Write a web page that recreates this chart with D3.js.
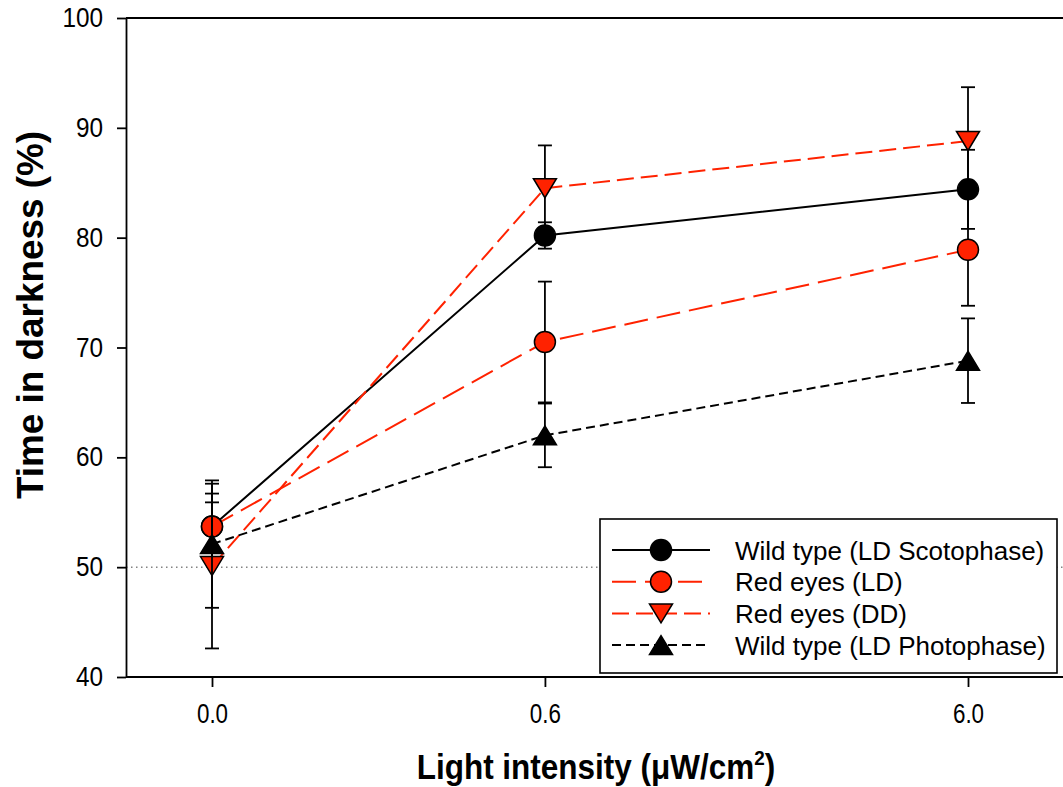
<!DOCTYPE html>
<html>
<head>
<meta charset="utf-8">
<script src="https://cdn.jsdelivr.net/npm/d3@7"></script>
<style>
  html, body { margin: 0; padding: 0; background: #fff; }
  svg { display: block; font-family: "Liberation Sans", Arial, sans-serif; }
</style>
</head>
<body>
<svg id="chart" width="1063" height="787"></svg>
<script>
// ---- data ----
const intensities = [0, 0.6, 6.0];
const tickLabels = ["0.0", "0.6", "6.0"];
const yTicks = [40, 50, 60, 70, 80, 90, 100];

const wtScoto = [53.7, 80.2, 84.4];
const wtScotoErr = [3.0, 1.2, 3.6];
const redLD = [53.7, 70.5, 78.9];
const redLDErr = [2.2, 5.5, 5.1];
const redDD = [50.1, 84.5, 88.8];
const redDDErr = [7.5, 3.9, 4.9];
const wtPhoto = [52.1, 62.0, 68.8];
const wtPhotoErr = [5.8, 2.9, 3.85];

const seriesNames = ["Wild type (LD Scotophase)", "Red eyes (LD)", "Red eyes (DD)", "Wild type (LD Photophase)"];

// ---- styles ----
const RED = "#ff2200";
const series = [
  { name: seriesNames[0], values: wtScoto, err: wtScotoErr, line: "#000", dash: null, fill: "#000", sym: "circle" },
  { name: seriesNames[1], values: redLD, err: redLDErr, line: RED, dash: "24,9", fill: RED, sym: "circle" },
  { name: seriesNames[2], values: redDD, err: redDDErr, line: RED, dash: "17,7", fill: RED, sym: "down" },
  { name: seriesNames[3], values: wtPhoto, err: wtPhotoErr, line: "#000", dash: "9,5", fill: "#000", sym: "up" }
];

const svg = d3.select("#chart");
const pL = 126, pR = 1063, pT = 18, pB = 677;

const x = d3.scaleSymlog().constant(0.14).domain([0, 6]).range([212, 968]);
const y = d3.scaleLinear().domain([40, 100]).range([pB, pT]);

function condense(sel, f) {
  sel.each(function () {
    const len = this.getComputedTextLength();
    d3.select(this).attr("textLength", len * f).attr("lengthAdjust", "spacingAndGlyphs");
  });
}

// dotted reference line at 50
svg.append("line")
  .attr("x1", pL).attr("x2", pR)
  .attr("y1", y(50)).attr("y2", y(50))
  .attr("stroke", "#444").attr("stroke-width", 1)
  .attr("stroke-dasharray", "1.5,3.5");

// frame lines
svg.append("line").attr("x1", pL).attr("x2", pR).attr("y1", pT).attr("y2", pT)
  .attr("stroke", "#000").attr("stroke-width", 1.8);
svg.append("line").attr("x1", pL).attr("x2", pR).attr("y1", pB).attr("y2", pB)
  .attr("stroke", "#000").attr("stroke-width", 1.8);

// y axis
const yAxis = svg.append("g").attr("transform", `translate(${pL},0)`)
  .call(d3.axisLeft(y).tickValues(yTicks).tickSize(9).tickPadding(14).tickSizeOuter(0));
yAxis.select(".domain").attr("stroke-width", 1.8);
yAxis.selectAll(".tick line").attr("stroke-width", 1.8);
yAxis.selectAll("text").attr("font-size", 27).attr("fill", "#000")
  .attr("font-family", "Liberation Sans, Arial, sans-serif");
condense(yAxis.selectAll("text"), 0.9);

// x axis
const xAxis = svg.append("g").attr("transform", `translate(0,${pB})`)
  .call(d3.axisBottom(x).tickValues(intensities).tickFormat((d, i) => tickLabels[i])
        .tickSize(10).tickPadding(16).tickSizeOuter(0));
xAxis.select(".domain").remove();
xAxis.selectAll(".tick line").attr("stroke-width", 1.8);
xAxis.selectAll("text").attr("font-size", 28).attr("fill", "#000")
  .attr("font-family", "Liberation Sans, Arial, sans-serif");
condense(xAxis.selectAll("text"), 0.8);

// axis titles
svg.append("text")
  .attr("transform", `translate(43,315) rotate(-90)`)
  .attr("text-anchor", "middle")
  .attr("font-size", 36).attr("font-weight", "bold")
  .attr("textLength", 368).attr("lengthAdjust", "spacingAndGlyphs")
  .text("Time in darkness (%)");

const xt = svg.append("text")
  .attr("transform", "translate(596,779) scale(0.9,1)")
  .attr("x", 0).attr("y", 0)
  .attr("text-anchor", "middle")
  .attr("font-size", 35).attr("font-weight", "bold");
xt.append("tspan").text("Light intensity (\u03bcW/cm");
xt.append("tspan").attr("font-size", 21).attr("dy", -14).text("2");
xt.append("tspan").attr("dy", 14).text(")");

// symbol drawing
function drawSymbol(g, sym, cx, cy, fill) {
  if (sym === "circle") {
    g.append("circle").attr("cx", cx).attr("cy", cy).attr("r", 10.5)
      .attr("fill", fill).attr("stroke", "#000").attr("stroke-width", 1.5);
  } else {
    const w = 11.5, h = 19;
    let pts;
    if (sym === "up") pts = [[cx, cy - h / 2], [cx + w, cy + h / 2], [cx - w, cy + h / 2]];
    else pts = [[cx - w, cy - h / 2], [cx + w, cy - h / 2], [cx, cy + h / 2]];
    g.append("path").attr("d", "M" + pts.map(p => p.join(",")).join("L") + "Z")
      .attr("fill", fill).attr("stroke", "#000").attr("stroke-width", 1.5);
  }
}

const lineGen = d3.line().x(d => x(d[0])).y(d => y(d[1]));
const capW = 7;

series.forEach(s => {
  const g = svg.append("g");
  // error bars
  s.values.forEach((v, i) => {
    const cx = x(intensities[i]);
    const y1 = y(v + s.err[i]), y2 = y(v - s.err[i]);
    g.append("line").attr("x1", cx).attr("x2", cx).attr("y1", y1).attr("y2", y2)
      .attr("stroke", "#000").attr("stroke-width", 1.8);
    [y1, y2].forEach(yy => g.append("line").attr("x1", cx - capW).attr("x2", cx + capW)
      .attr("y1", yy).attr("y2", yy).attr("stroke", "#000").attr("stroke-width", 1.8));
  });
  // line
  g.append("path").datum(s.values.map((v, i) => [intensities[i], v]))
    .attr("d", lineGen).attr("fill", "none")
    .attr("stroke", s.line).attr("stroke-width", 2)
    .attr("stroke-dasharray", s.dash);
  // symbols
  s.values.forEach((v, i) => drawSymbol(g, s.sym, x(intensities[i]), y(v), s.fill));
});

// legend
const lg = svg.append("g");
lg.append("rect").attr("x", 600).attr("y", 519).attr("width", 457).attr("height", 154)
  .attr("fill", "#fff").attr("stroke", "#000").attr("stroke-width", 1.6);
series.forEach((s, i) => {
  const ly = 550 + i * 31.7;
  lg.append("line").attr("x1", 612).attr("x2", 710).attr("y1", ly).attr("y2", ly)
    .attr("stroke", s.line).attr("stroke-width", 2).attr("stroke-dasharray", s.dash);
  drawSymbol(lg, s.sym, 661, ly, s.fill);
  lg.append("text").attr("x", 735).attr("y", ly + 9.5)
    .attr("font-size", 26).attr("fill", "#000")
    .text(s.name);
});
</script>
</body>
</html>
